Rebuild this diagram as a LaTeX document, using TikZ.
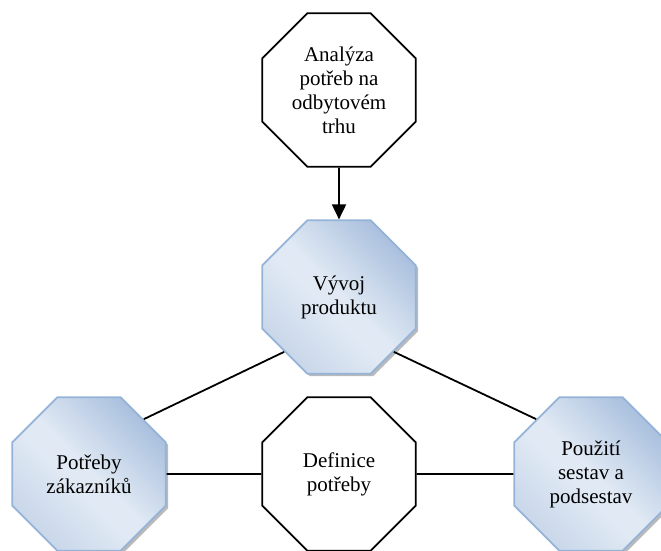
\documentclass[tikz,border=0pt]{standalone}
\usepackage{fontspec}
\setmainfont{Liberation Serif}
\usetikzlibrary{shapes.geometric,arrows.meta,shadows}

\definecolor{octLight}{HTML}{E0E9F4}
\definecolor{octMid}{HTML}{C9D7EA}
\definecolor{octDark}{HTML}{A3BBDB}
\definecolor{octLine}{HTML}{95B3D7}
\pgfdeclarehorizontalshading{octshade}{100bp}{color(0bp)=(octMid); color(25bp)=(octMid);
  color(44bp)=(octLight); color(51bp)=(octLight); color(78bp)=(octDark); color(100bp)=(octDark)}

\begin{document}
\begin{tikzpicture}[x=1pt, y=-1pt, >={Triangle[length=15pt,width=14pt]},
    font=\fontsize{21}{24}\selectfont,
    oct/.style={regular polygon, regular polygon sides=8, minimum size=166pt,
      inner sep=0pt, align=center},
    plainoct/.style={oct, draw=black, line width=1.8pt, fill=white},
    blueoct/.style={oct, draw=octLine, line width=1.8pt,
      shade, shading=octshade, shading angle=45,
      drop shadow={shadow xshift=2.5pt, shadow yshift=-2.5pt, fill=black!45, opacity=.6}},
    link/.style={line width=1.8pt}]
    \useasboundingbox (0,0) rectangle (661,551);
    
    \node[plainoct] (analyza) at (339,90) {Analýza\\potřeb na\\odbytovém\\trhu};
    \node[blueoct] (vyvoj) at (339,297) {Vývoj\\produktu};
    \node[blueoct] (zakaznici) at (89,474) {Potřeby\\zákazníků};
    \node[plainoct] (definice) at (339,474) {Definice\\potřeby};
    \node[blueoct] (sestavy) at (591,474) {Použití\\sestav a\\podsestav};
    
    \draw[link,->] (analyza) -- (vyvoj);
    \draw[link] (vyvoj.-135) -- (zakaznici.45);
    \draw[link] (vyvoj.-45) -- (sestavy.135);
    \draw[link] (zakaznici) -- (definice);
    \draw[link] (definice) -- (sestavy);
\end{tikzpicture}
\end{document}
